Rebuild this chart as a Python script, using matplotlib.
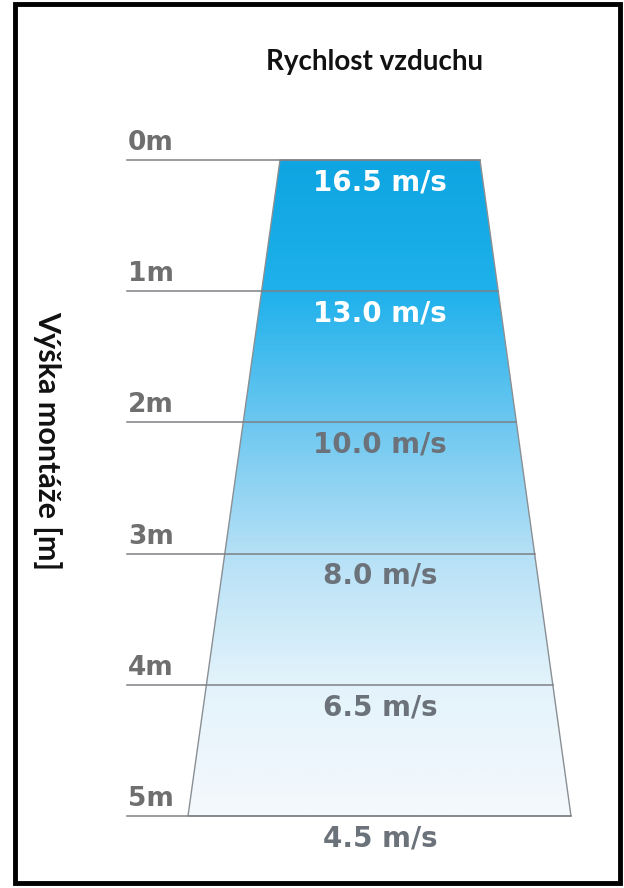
import matplotlib
matplotlib.use("Agg")
import matplotlib.pyplot as plt
import numpy as np
from matplotlib.colors import LinearSegmentedColormap
from matplotlib.patches import Polygon, Rectangle

# výšky montáže a rychlosti vzduchu
heights = [0, 1, 2, 3, 4, 5]
height_labels = ["0m", "1m", "2m", "3m", "4m", "5m"]
speeds = ["16.5 m/s", "13.0 m/s", "10.0 m/s", "8.0 m/s", "6.5 m/s", "4.5 m/s"]
speed_colors = ["white", "white", "#6b727a", "#6b727a", "#6b727a", "#6b727a"]
fill_colors = ["#0ea5e2", "#1fb1eb", "#6cc7f0", "#b5e0f6", "#e3f3fb", "#f4f9fd"]

W, H = 624, 888
fig = plt.figure(figsize=(W / 100, H / 100), dpi=100)
ax = fig.add_axes([0, 0, 1, 1])

# 0m -> 160 px, 5m -> 816 px
px_per_m = (816 - 160) / 5
ax.set_xlim(0, W)
ax.set_ylim(5 + (H - 816) / px_per_m, -160 / px_per_m)
ax.axis("off")

# lichobeznik
top_l, top_r = 280, 480
bot_l, bot_r = 188, 571


def edge_x(y, a, b):
    return a + (b - a) * y / 5


trap = Polygon([(top_l, 0), (top_r, 0), (bot_r, 5), (bot_l, 5)], closed=True,
               facecolor="none", edgecolor="#8a8f94", lw=1.0, zorder=3)
ax.add_patch(trap)

cmap = LinearSegmentedColormap.from_list("air", list(zip(np.array(heights) / 5, fill_colors)))
grad = np.linspace(0, 1, 300).reshape(-1, 1)
im = ax.imshow(grad, cmap=cmap, extent=(bot_l, bot_r, 5, 0), aspect="auto", zorder=1)
im.set_clip_path(trap)

for h, lab, sp, c in zip(heights, height_labels, speeds, speed_colors):
    xr = edge_x(h, top_r, bot_r)
    ax.plot([127, xr], [h, h], color="#7d8084", lw=1.1, zorder=4)
    ax.text(128, h - 0.03, lab, ha="left", va="bottom", fontsize=19,
            fontweight="bold", color="#6f6f6f", family="DejaVu Sans", zorder=5)
    ax.text(380, h + 0.17, sp, ha="center", va="center", fontsize=20,
            fontweight="bold", color=c, family="DejaVu Sans", zorder=5)

ax.text(375, -98 / px_per_m, "Rychlost vzduchu", ha="center", va="center",
        fontsize=20, fontweight="bold", color="#111111", family="Lato")
ax.text(48, 2.14, "Výška montáže [m]", ha="center", va="center", rotation=-90,
        fontsize=22, fontweight="bold", color="#111111", family="Lato")

# ramecek
fig.patches.append(Rectangle((15 / W, 5 / H), 605 / W, 879 / H, transform=fig.transFigure,
                             fill=False, edgecolor="black", lw=3.5))

fig.savefig("out.png", dpi=100)
